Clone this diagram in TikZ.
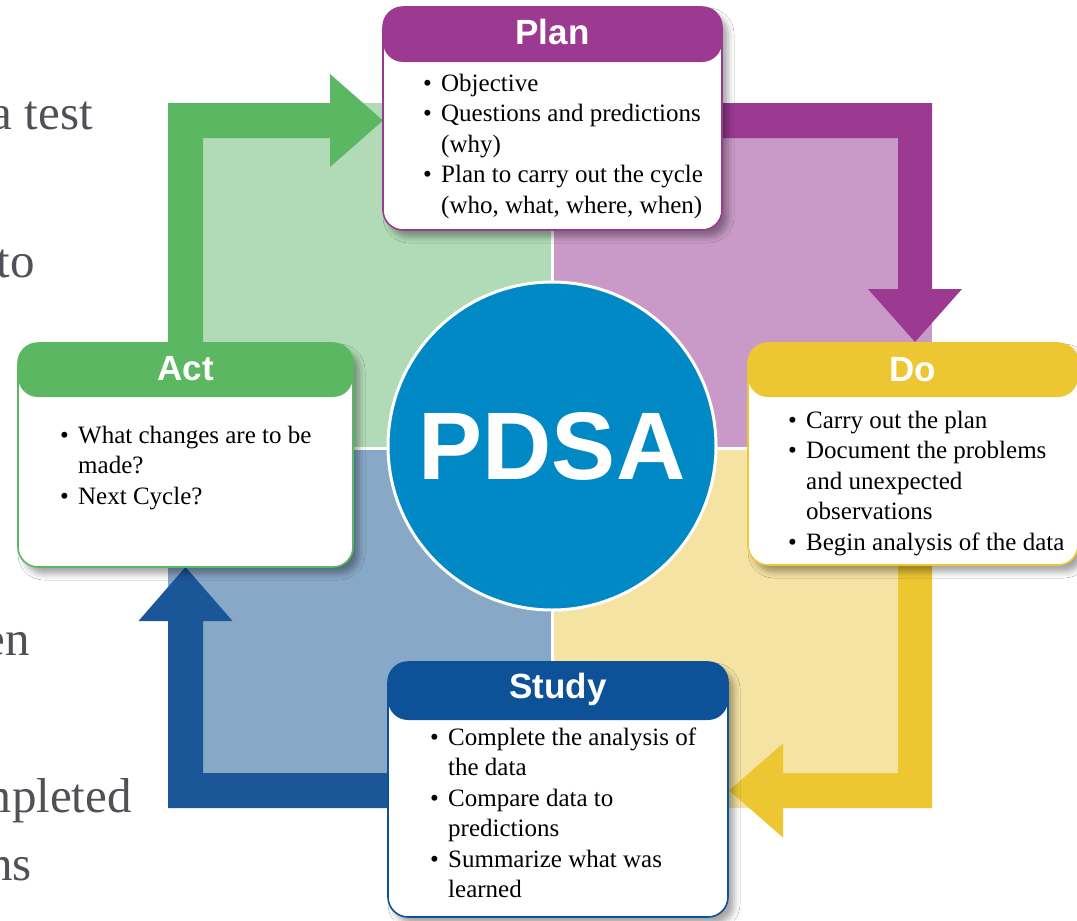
\documentclass[tikz,border=0pt]{standalone}
\usepackage{fontspec}
\setmainfont{Liberation Serif}
\newfontfamily\headfont{Liberation Sans}
\usetikzlibrary{shadows.blur}

% cycle colours: dark arrow/header tone and light quadrant tone
\definecolor{purpleD}{HTML}{9C3A92}
\definecolor{purpleL}{HTML}{C99AC7}
\definecolor{greenD}{HTML}{5CB762}
\definecolor{greenL}{HTML}{B1DAB6}
\definecolor{yellowD}{HTML}{EDC732}
\definecolor{yellowL}{HTML}{F4E3A3}
\definecolor{blueD}{HTML}{1B5699}
\definecolor{blueL}{HTML}{88A8C8}
\definecolor{studyHead}{HTML}{0D5298}
\definecolor{pdsaBlue}{HTML}{0089C4}
\definecolor{fragGrey}{HTML}{505056}

% bullet list helpers
\newcommand\bl{\makebox[18pt][l]{\textbullet}}
\newcommand\ind{\hspace*{18pt}}
\newcommand\itemlist[1]{\parbox[t]{330pt}{\fontsize{25}{30.5}\selectfont\raggedright #1}}

\begin{document}
\begin{tikzpicture}[x=1pt, y=-1pt,
  panel/.style 2 args={rectangle, draw=#1, line width=1.6pt, fill=white,
    rounded corners=20pt, inner sep=0pt, outer sep=0pt,
    blur shadow={shadow xshift=6pt, shadow yshift=-7pt, shadow blur radius=6pt, shadow opacity=35},
    path picture={\fill[#1] (path picture bounding box.north west)
      rectangle ([yshift=-#2]path picture bounding box.north east);}},
  paneltitle/.style={text=white, inner sep=0pt, anchor=base,
    font=\headfont\bfseries\fontsize{35}{35}\selectfont},
  panelbody/.style={inner sep=0pt, anchor=base west, text=black},
  frag/.style={text=fragGrey, inner sep=0pt, anchor=base east,
    font=\fontsize{49}{49}\selectfont},
  divider/.style={draw=white, line width=3pt}]

\useasboundingbox (0,0) rectangle (1077,921);
\clip (0,0) rectangle (1077,921);
\fill[white] (0,0) rectangle (1077,921);

% quadrant backgrounds
\fill[greenL]  (168,103) rectangle (552,448);
\fill[purpleL] (552,103) rectangle (932,448);
\fill[yellowL] (552,448) rectangle (932,808);
\fill[blueL]   (168,448) rectangle (552,808);
\draw[divider] (552,103) -- (552,808);
\draw[divider] (168,448) -- (932,448);

% cycle arrows
\fill[greenD] (168,360) -- (168,103) -- (330,103) -- (330,74) -- (383,120.5)
  -- (330,167) -- (330,138) -- (203,138) -- (203,360) -- cycle;
\fill[purpleD] (710,103) -- (932,103) -- (932,289) -- (962,289) -- (915,342)
  -- (868,289) -- (898,289) -- (898,138) -- (710,138) -- cycle;
\fill[yellowD] (898,550) -- (932,550) -- (932,808) -- (783,808) -- (783,837.5)
  -- (729,790.5) -- (783,743.5) -- (783,773) -- (898,773) -- cycle;
\fill[blueD] (400,773) -- (400,808) -- (168,808) -- (168,621) -- (138.5,621)
  -- (185.5,567) -- (232.5,621) -- (203,621) -- (203,773) -- cycle;

% centre disc
\node[circle, fill=pdsaBlue, draw=white, line width=3pt, minimum size=328pt,
  inner sep=0pt, text=white, font=\headfont\bfseries\fontsize{96}{96}\selectfont]
  (pdsa) at (552,446) {PDSA};

% slide text running off the left edge
\node[frag] (f1) at (93,129) {a test};
\node[frag] (f2) at (35,277) {to};
\node[frag] (f3) at (30,655) {en};
\node[frag] (f4) at (132,812) {mpleted};
\node[frag] (f5) at (32,880) {ns};

% panels
\node[panel={purpleD}{55pt}, minimum width=339pt, minimum height=223pt] (plan) at (552.5,118.5) {};
\node[panel={yellowD}{54pt}, minimum width=330pt, minimum height=222pt] (do) at (913,454) {};
\node[panel={studyHead}{58pt}, minimum width=340pt, minimum height=255pt] (study) at (558,789.5) {};
\node[panel={greenD}{54pt}, minimum width=335pt, minimum height=224pt] (act) at (185.5,455) {};

\node[paneltitle] (plan-t) at (552.5,44) {Plan};
\node[paneltitle] (do-t) at (913,381) {Do};
\node[paneltitle] (study-t) at (558,698) {Study};
\node[paneltitle] (act-t) at (185.5,380) {Act};

\node[panelbody] (plan-b) at (423,91) {\itemlist{%
  \bl Objective\\
  \bl Questions and predictions\\
  \ind(why)\\
  \bl Plan to carry out the cycle\\
  \ind(who, what, where, when)}};

\node[panelbody] (do-b) at (788,428) {\itemlist{%
  \bl Carry out the plan\\
  \bl Document the problems\\
  \ind and unexpected\\
  \ind observations\\
  \bl Begin analysis of the data}};

\node[panelbody] (study-b) at (430,745) {\itemlist{%
  \bl Complete the analysis of\\
  \ind the data\\
  \bl Compare data to\\
  \ind predictions\\
  \bl Summarize what was\\
  \ind learned}};

\node[panelbody] (act-b) at (60,443) {\itemlist{%
  \bl What changes are to be\\
  \ind made?\\
  \bl Next Cycle?}};

\end{tikzpicture}
\end{document}
